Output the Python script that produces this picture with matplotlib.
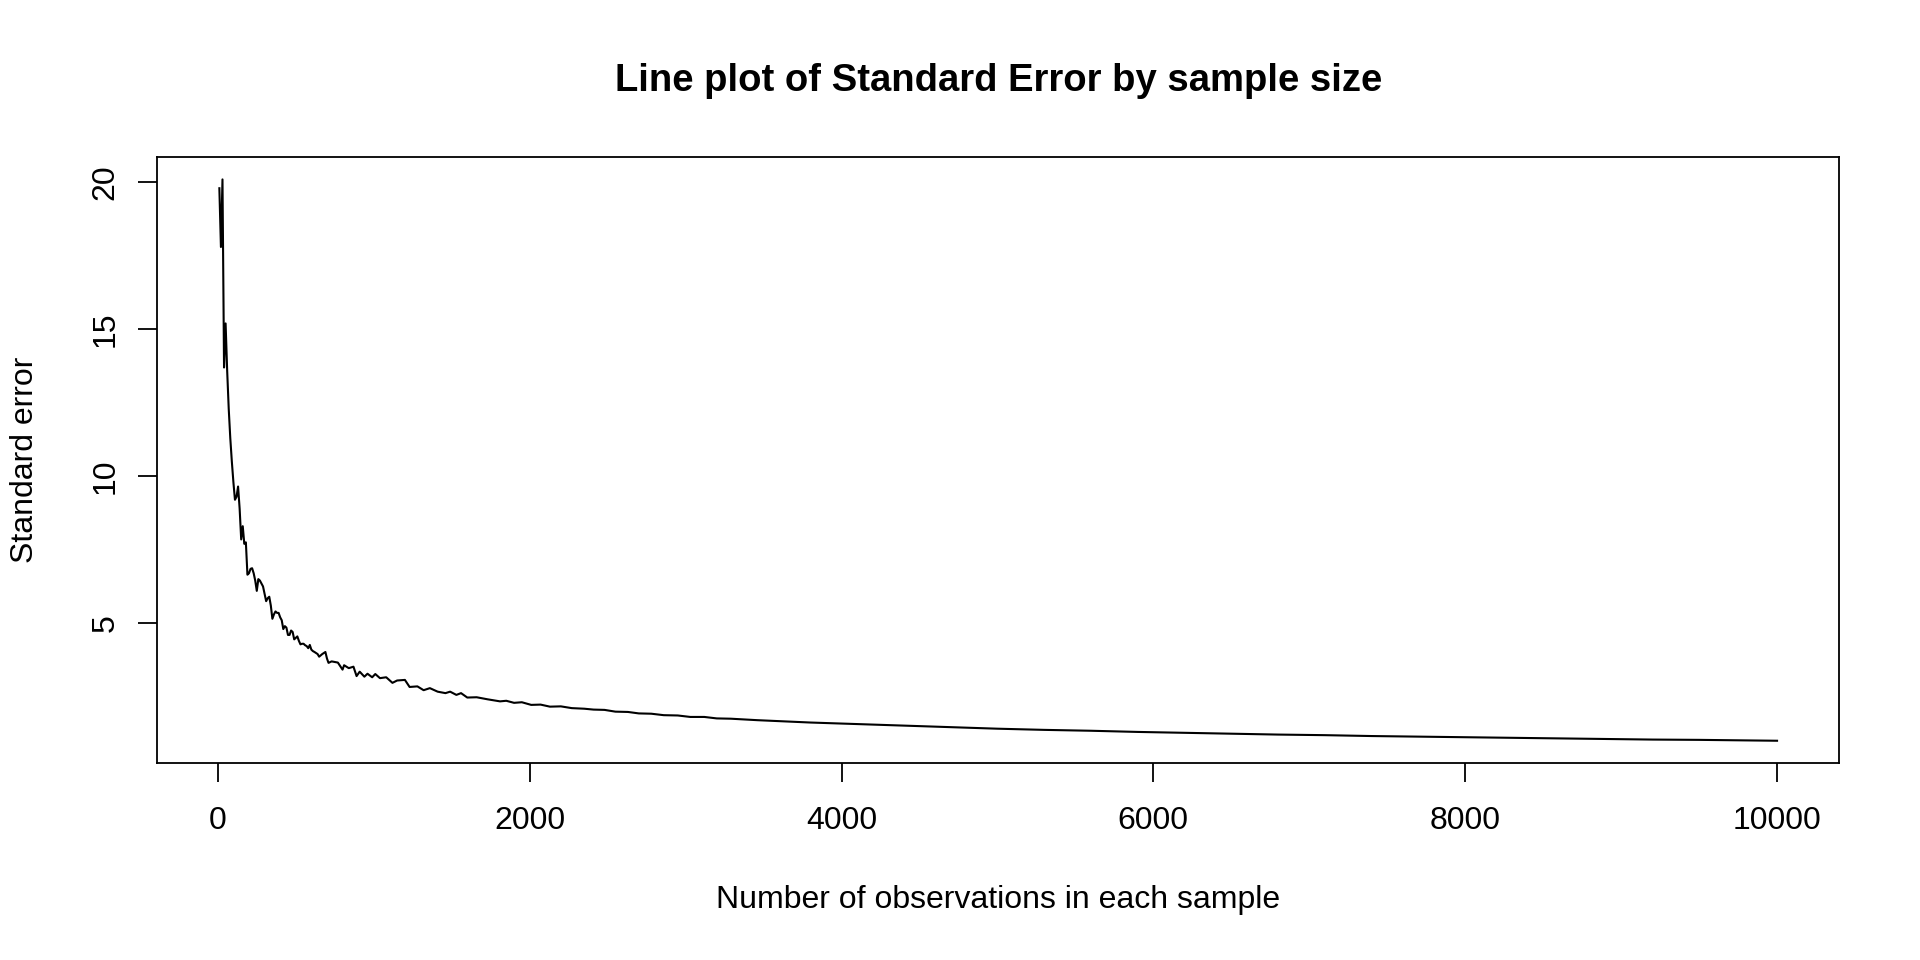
import matplotlib.pyplot as plt

plt.rcParams['font.family'] = ['Liberation Sans', 'DejaVu Sans']

# sample size and standard error
sample_size = [10, 20, 30, 40, 50, 60, 70, 80, 90, 100,
               110, 120, 130, 140, 150, 160, 170, 180, 190, 200,
               210, 220, 230, 240, 250, 260, 270, 280, 290, 300,
               310, 320, 330, 340, 350, 360, 370, 380, 390, 400,
               410, 420, 430, 440, 450, 460, 470, 480, 490, 500,
               510, 520, 530, 540, 550, 560, 570, 580, 590, 600,
               610, 620, 640, 650, 670, 690, 700, 710, 730, 750,
               770, 790, 800, 810, 840, 870, 890, 910, 940, 960,
               990, 1010, 1040, 1080, 1120, 1150, 1200, 1230, 1280, 1320,
               1360, 1410, 1460, 1490, 1530, 1560, 1600, 1660, 1730, 1810,
               1850, 1900, 1950, 2010, 2070, 2130, 2200, 2270, 2350, 2410,
               2480, 2550, 2630, 2700, 2780, 2860, 2950, 3030, 3120, 3200,
               3290, 3460, 3630, 3800, 3970, 4140, 4310, 4490, 4700, 5000,
               5300, 5600, 5900, 6200, 6500, 6800, 7100, 7400, 7700, 8000,
               8300, 8600, 8900, 9200, 9500, 9800, 10000]
std_error = [19.8, 17.8, 20.1, 13.7, 15.2, 13.6, 12.3, 11.3, 10.5, 9.8,
             9.2, 9.3, 9.65, 8.9, 7.85, 8.3, 7.7, 7.75, 6.65, 6.7,
             6.85, 6.87, 6.7, 6.45, 6.1, 6.5, 6.45, 6.35, 6.25, 6.0,
             5.75, 5.85, 5.9, 5.6, 5.15, 5.3, 5.4, 5.35, 5.35, 5.2,
             5.1, 4.8, 4.9, 4.85, 4.6, 4.6, 4.75, 4.7, 4.45, 4.5,
             4.55, 4.4, 4.28, 4.3, 4.3, 4.25, 4.22, 4.15, 4.26, 4.1,
             4.05, 4.02, 3.95, 3.86, 3.95, 4.02, 3.8, 3.65, 3.7, 3.68,
             3.66, 3.5, 3.42, 3.57, 3.47, 3.52, 3.2, 3.35, 3.18, 3.28,
             3.16, 3.27, 3.13, 3.16, 2.97, 3.05, 3.07, 2.83, 2.85, 2.72,
             2.79, 2.67, 2.62, 2.67, 2.56, 2.62, 2.47, 2.48, 2.41, 2.34,
             2.36, 2.29, 2.31, 2.22, 2.23, 2.16, 2.17, 2.11, 2.09, 2.06,
             2.05, 1.99, 1.98, 1.93, 1.92, 1.87, 1.86, 1.81, 1.81, 1.76,
             1.75, 1.7, 1.66, 1.62, 1.59, 1.56, 1.53, 1.5, 1.46, 1.41,
             1.37, 1.34, 1.3, 1.27, 1.24, 1.21, 1.19, 1.16, 1.14, 1.12,
             1.1, 1.08, 1.06, 1.04, 1.03, 1.01, 1.0]

x_ticks = [0, 2000, 4000, 6000, 8000, 10000]
y_ticks = [5, 10, 15, 20]

left, right, bottom, top = 0.0818, 0.958, 0.205, 0.8365
fig = plt.figure(figsize=(19.2, 9.6), dpi=100)
ax = fig.add_axes([left, bottom, right - left, top - bottom])
ax.plot(sample_size, std_error, color='black', linewidth=1.5)

# R-style 4% axis padding
xr = max(sample_size) - min(sample_size)
yr = max(std_error) - min(std_error)
ax.set_xlim(min(sample_size) - 0.04 * xr, max(sample_size) + 0.04 * xr)
ax.set_ylim(min(std_error) - 0.04 * yr, max(std_error) + 0.04 * yr)

ax.set_xticks(x_ticks)
ax.set_yticks(y_ticks)
ax.tick_params(direction='out', length=13.5, width=1.3, labelsize=23, pad=17)
ax.tick_params(axis='y', pad=13)
for lab in ax.get_yticklabels():
    lab.set_rotation(90)
    lab.set_va('center')
for s in ax.spines.values():
    s.set_linewidth(1.3)

cx = (left + right) / 2
fig.text(cx, 0.916, 'Line plot of Standard Error by sample size',
         ha='center', va='center', fontsize=27.5, fontweight='bold')
fig.text(cx, 0.0625, 'Number of observations in each sample',
         ha='center', va='center', fontsize=23)
fig.text(0.0128, (bottom + top) / 2, 'Standard error',
         ha='center', va='center', fontsize=23, rotation=90)

fig.savefig('out.png', dpi=100)
